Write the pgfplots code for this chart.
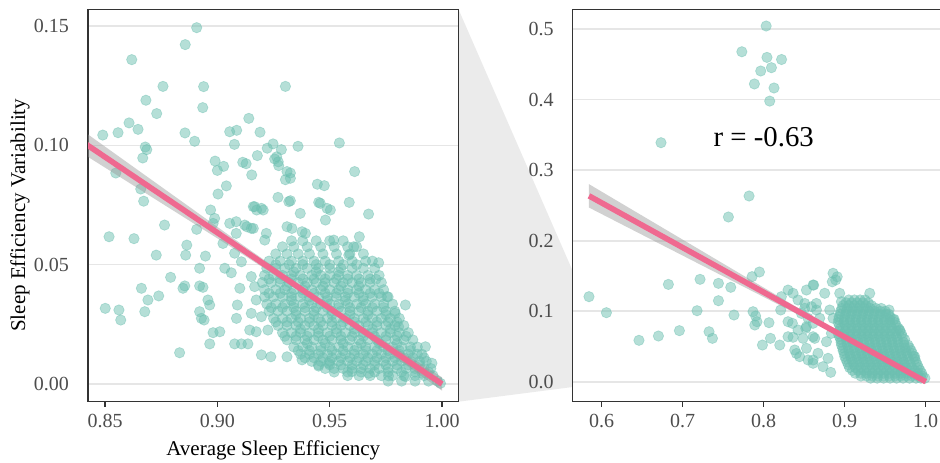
\documentclass[border=0pt]{standalone}
\usepackage{fontspec}
\setmainfont{Liberation Serif}
\usepackage{pgfplots}
\usepackage{pgfplotstable}
\pgfplotsset{compat=1.18}

\definecolor{ptc}{HTML}{6CBFB0}
\definecolor{fitc}{HTML}{EF6990}
\definecolor{grd}{HTML}{E6E6E6}
\definecolor{axc}{HTML}{333333}
\definecolor{tkc}{HTML}{4D4D4D}
\definecolor{zoomgrey}{HTML}{EBEBEB}

% left panel: zoomed view
\pgfplotstableread[row sep=\\]{
x y\\
0.8420 0.0758\\ 0.8418 0.0606\\ 0.8420 0.0444\\ 0.8415 0.0373\\ 0.8424 0.0624\\
0.8908 0.1493\\ 0.8857 0.1422\\ 0.8619 0.1359\\ 0.8758 0.1247\\ 0.8939 0.1246\\ 0.8682 0.1189\\
0.8935 0.1158\\ 0.8730 0.1133\\ 0.9140 0.1113\\ 0.8607 0.1094\\ 0.8647 0.1067\\ 0.8490 0.1043\\
0.8558 0.1053\\ 0.8856 0.1052\\ 0.8899 0.1017\\ 0.9055 0.1057\\ 0.9086 0.1063\\ 0.9190 0.1055\\
0.9076 0.1004\\ 0.8679 0.0993\\ 0.8686 0.0982\\ 0.8668 0.0947\\ 0.8548 0.0884\\ 0.8990 0.0934\\
0.9028 0.0912\\ 0.9000 0.0895\\ 0.9113 0.0929\\ 0.9128 0.0923\\ 0.9178 0.0957\\ 0.9153 0.0876\\
0.9222 0.0988\\ 0.9248 0.1006\\ 0.9255 0.0943\\ 0.9040 0.0830\\ 0.9003 0.0796\\ 0.8659 0.0817\\
0.8672 0.0766\\ 0.9303 0.1247\\ 0.9543 0.1010\\ 0.9359 0.0996\\ 0.9285 0.0982\\ 0.9611 0.0890\\
0.9273 0.0915\\ 0.9310 0.0890\\ 0.9325 0.0884\\ 0.9303 0.0856\\ 0.9325 0.0862\\ 0.9445 0.0837\\
0.9476 0.0831\\ 0.9270 0.0782\\ 0.9325 0.0768\\ 0.9451 0.0761\\ 0.9587 0.0761\\ 0.9264 0.0952\\
0.9271 0.0931\\ 0.8765 0.0666\\ 0.8518 0.0617\\ 0.8629 0.0609\\ 0.8728 0.0540\\ 0.8864 0.0582\\
0.8859 0.0540\\ 0.8947 0.0536\\ 0.8908 0.0648\\ 0.8970 0.0729\\ 0.8988 0.0694\\ 0.8981 0.0673\\
0.9055 0.0673\\ 0.9084 0.0680\\ 0.9122 0.0666\\ 0.9151 0.0652\\ 0.9084 0.0631\\ 0.9025 0.0589\\
0.9077 0.0548\\ 0.9107 0.0512\\ 0.9166 0.0743\\ 0.9196 0.0736\\ 0.9218 0.0631\\ 0.9211 0.0603\\
0.8921 0.0485\\ 0.9033 0.0485\\ 0.9062 0.0466\\ 0.8792 0.0447\\ 0.8662 0.0401\\ 0.8855 0.0411\\
0.8847 0.0401\\ 0.8921 0.0411\\ 0.8936 0.0405\\ 0.8739 0.0369\\ 0.8691 0.0352\\ 0.8677 0.0303\\
0.8501 0.0317\\ 0.8562 0.0310\\ 0.8570 0.0268\\ 0.8958 0.0352\\ 0.8966 0.0331\\ 0.8921 0.0303\\
0.8929 0.0275\\ 0.8941 0.0268\\ 0.8981 0.0215\\ 0.9011 0.0219\\ 0.8966 0.0168\\ 0.8832 0.0131\\
0.9077 0.0168\\ 0.9107 0.0168\\ 0.9136 0.0168\\ 0.9196 0.0122\\ 0.9238 0.0114\\ 0.9100 0.0401\\
0.9089 0.0331\\ 0.9085 0.0275\\ 0.9151 0.0450\\ 0.9166 0.0408\\ 0.9173 0.0352\\ 0.9144 0.0226\\
0.9173 0.0219\\ 0.9225 0.0226\\ 0.9151 0.0296\\ 0.9196 0.0282\\ 0.9318 0.0764\\ 0.9458 0.0757\\
0.9488 0.0736\\ 0.9503 0.0729\\ 0.9481 0.0687\\ 0.9673 0.0712\\ 0.9369 0.0715\\ 0.9332 0.0652\\
0.9310 0.0659\\ 0.9392 0.0631\\ 0.9377 0.0638\\ 0.9518 0.0603\\ 0.9632 0.0617\\ 0.9607 0.0575\\
0.9585 0.0540\\ 0.9718 0.0508\\ 0.9706 0.0439\\ 0.9755 0.0366\\ 0.9837 0.0331\\ 0.9792 0.0296\\
0.9807 0.0240\\ 0.9926 0.0156\\ 0.9955 0.0087\\ 0.9993 0.0003\\ 0.9310 0.0114\\ 0.9377 0.0101\\
0.9451 0.0075\\ 0.9496 0.0087\\ 0.9599 0.0052\\ 0.9673 0.0045\\ 0.9762 0.0034\\ 0.9837 0.0031\\
0.9911 0.0045\\ 0.9160 0.0743\\ 0.9175 0.0729\\ 0.9204 0.0729\\ 0.9131 0.0659\\ 0.9160 0.0652\\
0.933 0.0600\\ 0.938 0.0600\\ 0.944 0.0600\\ 0.950 0.0600\\ 0.956 0.0600\\
0.929 0.0575\\ 0.934 0.0575\\ 0.940 0.0575\\ 0.946 0.0575\\ 0.952 0.0575\\ 0.958 0.0575\\ 0.962 0.0575\\
0.926 0.0545\\ 0.931 0.0545\\ 0.936 0.0545\\ 0.941 0.0545\\ 0.947 0.0545\\ 0.953 0.0545\\ 0.959 0.0545\\ 0.965 0.0545\\
0.923 0.0515\\ 0.928 0.0515\\ 0.933 0.0515\\ 0.938 0.0515\\ 0.943 0.0515\\ 0.948 0.0515\\ 0.954 0.0515\\ 0.960 0.0515\\ 0.966 0.0515\\ 0.969 0.0515\\
0.922 0.0485\\ 0.926 0.0485\\ 0.930 0.0485\\ 0.935 0.0485\\ 0.940 0.0485\\ 0.945 0.0485\\ 0.950 0.0485\\ 0.955 0.0485\\ 0.960 0.0485\\ 0.965 0.0485\\ 0.970 0.0485\\
0.921 0.0455\\ 0.925 0.0455\\ 0.929 0.0455\\ 0.933 0.0455\\ 0.937 0.0455\\ 0.942 0.0455\\ 0.946 0.0455\\ 0.950 0.0455\\ 0.954 0.0455\\ 0.958 0.0455\\ 0.962 0.0455\\ 0.967 0.0455\\ 0.972 0.0455\\
0.920 0.0425\\ 0.924 0.0425\\ 0.928 0.0425\\ 0.932 0.0425\\ 0.936 0.0425\\ 0.940 0.0425\\ 0.944 0.0425\\ 0.948 0.0425\\ 0.952 0.0425\\ 0.956 0.0425\\ 0.960 0.0425\\ 0.964 0.0425\\ 0.968 0.0425\\ 0.973 0.0425\\
0.921 0.0395\\ 0.926 0.0395\\ 0.930 0.0395\\ 0.934 0.0395\\ 0.938 0.0395\\ 0.942 0.0395\\ 0.946 0.0395\\ 0.950 0.0395\\ 0.954 0.0395\\ 0.958 0.0395\\ 0.962 0.0395\\ 0.966 0.0395\\ 0.970 0.0395\\ 0.974 0.0395\\
0.921 0.0365\\ 0.925 0.0365\\ 0.929 0.0365\\ 0.933 0.0365\\ 0.937 0.0365\\ 0.941 0.0365\\ 0.945 0.0365\\ 0.949 0.0365\\ 0.953 0.0365\\ 0.957 0.0365\\ 0.961 0.0365\\ 0.965 0.0365\\ 0.969 0.0365\\ 0.973 0.0365\\ 0.976 0.0365\\
0.922 0.0335\\ 0.926 0.0335\\ 0.930 0.0335\\ 0.934 0.0335\\ 0.938 0.0335\\ 0.942 0.0335\\ 0.946 0.0335\\ 0.950 0.0335\\ 0.954 0.0335\\ 0.958 0.0335\\ 0.962 0.0335\\ 0.966 0.0335\\ 0.970 0.0335\\ 0.974 0.0335\\ 0.978 0.0335\\
0.923 0.0305\\ 0.927 0.0305\\ 0.931 0.0305\\ 0.935 0.0305\\ 0.939 0.0305\\ 0.943 0.0305\\ 0.947 0.0305\\ 0.951 0.0305\\ 0.955 0.0305\\ 0.959 0.0305\\ 0.963 0.0305\\ 0.967 0.0305\\ 0.971 0.0305\\ 0.975 0.0305\\ 0.979 0.0305\\
0.925 0.0275\\ 0.929 0.0275\\ 0.933 0.0275\\ 0.937 0.0275\\ 0.941 0.0275\\ 0.945 0.0275\\ 0.949 0.0275\\ 0.953 0.0275\\ 0.957 0.0275\\ 0.961 0.0275\\ 0.965 0.0275\\ 0.969 0.0275\\ 0.973 0.0275\\ 0.977 0.0275\\ 0.981 0.0275\\
0.927 0.0245\\ 0.931 0.0245\\ 0.935 0.0245\\ 0.939 0.0245\\ 0.943 0.0245\\ 0.947 0.0245\\ 0.951 0.0245\\ 0.955 0.0245\\ 0.959 0.0245\\ 0.963 0.0245\\ 0.967 0.0245\\ 0.971 0.0245\\ 0.975 0.0245\\ 0.979 0.0245\\ 0.983 0.0245\\
0.929 0.0215\\ 0.933 0.0215\\ 0.937 0.0215\\ 0.941 0.0215\\ 0.945 0.0215\\ 0.949 0.0215\\ 0.953 0.0215\\ 0.957 0.0215\\ 0.961 0.0215\\ 0.965 0.0215\\ 0.969 0.0215\\ 0.973 0.0215\\ 0.977 0.0215\\ 0.981 0.0215\\ 0.985 0.0215\\
0.931 0.0185\\ 0.935 0.0185\\ 0.939 0.0185\\ 0.943 0.0185\\ 0.947 0.0185\\ 0.951 0.0185\\ 0.955 0.0185\\ 0.959 0.0185\\ 0.963 0.0185\\ 0.967 0.0185\\ 0.971 0.0185\\ 0.975 0.0185\\ 0.979 0.0185\\ 0.983 0.0185\\ 0.987 0.0185\\
0.934 0.0155\\ 0.938 0.0155\\ 0.942 0.0155\\ 0.946 0.0155\\ 0.950 0.0155\\ 0.954 0.0155\\ 0.958 0.0155\\ 0.962 0.0155\\ 0.966 0.0155\\ 0.970 0.0155\\ 0.974 0.0155\\ 0.978 0.0155\\ 0.982 0.0155\\ 0.986 0.0155\\ 0.989 0.0155\\
0.937 0.0125\\ 0.941 0.0125\\ 0.945 0.0125\\ 0.949 0.0125\\ 0.953 0.0125\\ 0.957 0.0125\\ 0.961 0.0125\\ 0.965 0.0125\\ 0.969 0.0125\\ 0.973 0.0125\\ 0.977 0.0125\\ 0.981 0.0125\\ 0.985 0.0125\\ 0.989 0.0125\\ 0.991 0.0125\\
0.942 0.0095\\ 0.946 0.0095\\ 0.950 0.0095\\ 0.954 0.0095\\ 0.958 0.0095\\ 0.962 0.0095\\ 0.966 0.0095\\ 0.970 0.0095\\ 0.974 0.0095\\ 0.978 0.0095\\ 0.982 0.0095\\ 0.986 0.0095\\ 0.990 0.0095\\ 0.993 0.0095\\
0.948 0.0065\\ 0.952 0.0065\\ 0.956 0.0065\\ 0.960 0.0065\\ 0.964 0.0065\\ 0.968 0.0065\\ 0.972 0.0065\\ 0.976 0.0065\\ 0.980 0.0065\\ 0.984 0.0065\\ 0.988 0.0065\\ 0.992 0.0065\\ 0.995 0.0065\\
0.958 0.0035\\ 0.963 0.0035\\ 0.968 0.0035\\ 0.973 0.0035\\ 0.978 0.0035\\ 0.983 0.0035\\ 0.988 0.0035\\ 0.992 0.0035\\ 0.996 0.0035\\
0.976 0.0012\\ 0.982 0.0012\\ 0.988 0.0012\\ 0.994 0.0012\\ 0.998 0.0012\\
0.943 0.0110\\ 0.951 0.0110\\ 0.959 0.0110\\ 0.967 0.0110\\ 0.975 0.0110\\ 0.983 0.0110\\
0.940 0.0170\\ 0.948 0.0170\\ 0.956 0.0170\\ 0.964 0.0170\\ 0.972 0.0170\\ 0.980 0.0170\\
0.937 0.0230\\ 0.945 0.0230\\ 0.953 0.0230\\ 0.961 0.0230\\ 0.969 0.0230\\ 0.977 0.0230\\
0.935 0.0290\\ 0.943 0.0290\\ 0.951 0.0290\\ 0.959 0.0290\\ 0.967 0.0290\\ 0.975 0.0290\\
0.933 0.0350\\ 0.941 0.0350\\ 0.949 0.0350\\ 0.957 0.0350\\ 0.965 0.0350\\
0.931 0.0410\\ 0.939 0.0410\\ 0.947 0.0410\\ 0.955 0.0410\\ 0.963 0.0410\\
0.934 0.0470\\ 0.944 0.0470\\ 0.954 0.0470\\
0.952 0.0050\\ 0.958 0.0050\\ 0.964 0.0050\\ 0.970 0.0050\\ 0.976 0.0050\\ 0.982 0.0050\\ 0.988 0.0050\\ 0.994 0.0050\\
0.945 0.0080\\ 0.950 0.0080\\ 0.955 0.0080\\ 0.960 0.0080\\ 0.965 0.0080\\ 0.970 0.0080\\ 0.975 0.0080\\ 0.980 0.0080\\ 0.985 0.0080\\ 0.990 0.0080\\
0.939 0.0110\\ 0.947 0.0110\\ 0.955 0.0110\\ 0.963 0.0110\\ 0.971 0.0110\\ 0.979 0.0110\\ 0.987 0.0110\\ 0.992 0.0110\\
0.936 0.0140\\ 0.941 0.0140\\ 0.946 0.0140\\ 0.951 0.0140\\ 0.956 0.0140\\ 0.961 0.0140\\ 0.966 0.0140\\ 0.971 0.0140\\ 0.976 0.0140\\ 0.981 0.0140\\ 0.986 0.0140\\
0.930 0.0200\\ 0.935 0.0200\\ 0.940 0.0200\\ 0.945 0.0200\\ 0.950 0.0200\\ 0.955 0.0200\\ 0.960 0.0200\\ 0.965 0.0200\\ 0.970 0.0200\\ 0.975 0.0200\\ 0.980 0.0200\\ 0.984 0.0200\\
0.926 0.0260\\ 0.931 0.0260\\ 0.936 0.0260\\ 0.941 0.0260\\ 0.946 0.0260\\ 0.951 0.0260\\ 0.956 0.0260\\ 0.961 0.0260\\ 0.966 0.0260\\ 0.971 0.0260\\ 0.976 0.0260\\ 0.980 0.0260\\
0.924 0.0320\\ 0.929 0.0320\\ 0.934 0.0320\\ 0.939 0.0320\\ 0.944 0.0320\\ 0.949 0.0320\\ 0.954 0.0320\\ 0.959 0.0320\\ 0.964 0.0320\\ 0.969 0.0320\\ 0.974 0.0320\\
0.923 0.0380\\ 0.928 0.0380\\ 0.933 0.0380\\ 0.938 0.0380\\ 0.943 0.0380\\ 0.948 0.0380\\ 0.953 0.0380\\ 0.958 0.0380\\ 0.963 0.0380\\ 0.968 0.0380\\ 0.972 0.0380\\
0.923 0.0440\\ 0.928 0.0440\\ 0.933 0.0440\\ 0.938 0.0440\\ 0.943 0.0440\\ 0.948 0.0440\\ 0.953 0.0440\\ 0.958 0.0440\\ 0.963 0.0440\\ 0.968 0.0440\\
0.926 0.0500\\ 0.932 0.0500\\ 0.938 0.0500\\ 0.944 0.0500\\ 0.950 0.0500\\ 0.956 0.0500\\ 0.962 0.0500\\
}\ptsL

% right panel: full range
\pgfplotstableread[row sep=\\]{
x y\\
0.803 0.5045\\ 0.773 0.468\\ 0.804 0.460\\ 0.822 0.457\\ 0.8095 0.4454\\ 0.7963 0.4407\\
0.7885 0.4223\\ 0.8127 0.4166\\ 0.8074 0.398\\ 0.6732 0.339\\ 0.7819 0.2634\\ 0.7564 0.2336\\
0.5843 0.1206\\ 0.6058 0.0979\\ 0.646 0.0587\\ 0.670 0.0648\\ 0.6823 0.138\\ 0.6959 0.0724\\
0.7177 0.1007\\ 0.7214 0.1452\\ 0.7325 0.0709\\ 0.7367 0.0615\\ 0.7441 0.1395\\ 0.7441 0.1149\\
0.7593 0.1339\\ 0.7633 0.0946\\ 0.7856 0.149\\ 0.7947 0.1556\\ 0.7868 0.0993\\ 0.790 0.0932\\
0.7917 0.0851\\ 0.789 0.0804\\ 0.8065 0.0837\\ 0.7984 0.052\\ 0.8083 0.0615\\ 0.8198 0.052\\
0.821 0.1017\\ 0.8218 0.1206\\ 0.830 0.130\\ 0.8362 0.1254\\ 0.830 0.0851\\ 0.8354 0.0828\\
0.8424 0.0733\\ 0.830 0.0638\\ 0.8362 0.063\\ 0.8485 0.0615\\ 0.8609 0.0638\\ 0.8383 0.045\\
0.8444 0.0355\\ 0.8547 0.0308\\ 0.8609 0.0308\\ 0.8424 0.1159\\ 0.8506 0.1041\\ 0.8589 0.1064\\
0.8651 0.1017\\ 0.8609 0.1372\\ 0.8527 0.130\\ 0.8547 0.090\\ 0.8609 0.0828\\ 0.8519 0.0757\\
0.8506 0.111\\ 0.865 0.111\\ 0.8753 0.1254\\ 0.8938 0.1254\\ 0.8959 0.1135\\ 0.8815 0.1017\\
0.8856 0.090\\ 0.8691 0.090\\ 0.8527 0.078\\ 0.863 0.0615\\ 0.8774 0.0567\\ 0.8836 0.0686\\
0.8527 0.0474\\ 0.867 0.0403\\ 0.8794 0.0332\\ 0.8609 0.0261\\ 0.8732 0.0213\\ 0.8827 0.0133\\
0.8465 0.097\\ 0.8889 0.1443\\ 0.8856 0.1538\\ 0.8617 0.137\\ 0.9309 0.1254\\ 0.9547 0.1017\\
0.961 0.0885\\ 0.9679 0.0733\\ 0.9864 0.0355\\ 0.8846 0.1417\\ 0.8907 0.1488\\ 0.8404 0.040\\
0.905 0.116\\ 0.912 0.116\\ 0.919 0.116\\ 0.925 0.116\\
0.898 0.108\\ 0.905 0.108\\ 0.912 0.108\\ 0.919 0.108\\ 0.926 0.108\\ 0.933 0.108\\
0.895 0.100\\ 0.902 0.100\\ 0.909 0.100\\ 0.916 0.100\\ 0.923 0.100\\ 0.930 0.100\\ 0.937 0.100\\ 0.944 0.100\\ 0.950 0.100\\
0.893 0.092\\ 0.900 0.092\\ 0.907 0.092\\ 0.914 0.092\\ 0.921 0.092\\ 0.928 0.092\\ 0.935 0.092\\ 0.942 0.092\\ 0.949 0.092\\ 0.956 0.092\\
0.892 0.084\\ 0.899 0.084\\ 0.906 0.084\\ 0.913 0.084\\ 0.920 0.084\\ 0.927 0.084\\ 0.934 0.084\\ 0.941 0.084\\ 0.948 0.084\\ 0.955 0.084\\ 0.962 0.084\\
0.895 0.076\\ 0.902 0.076\\ 0.909 0.076\\ 0.916 0.076\\ 0.923 0.076\\ 0.930 0.076\\ 0.937 0.076\\ 0.944 0.076\\ 0.951 0.076\\ 0.958 0.076\\ 0.966 0.076\\
0.892 0.068\\ 0.899 0.068\\ 0.906 0.068\\ 0.913 0.068\\ 0.920 0.068\\ 0.927 0.068\\ 0.934 0.068\\ 0.941 0.068\\ 0.948 0.068\\ 0.955 0.068\\ 0.962 0.068\\ 0.970 0.068\\
0.895 0.060\\ 0.902 0.060\\ 0.909 0.060\\ 0.916 0.060\\ 0.923 0.060\\ 0.930 0.060\\ 0.937 0.060\\ 0.944 0.060\\ 0.951 0.060\\ 0.958 0.060\\ 0.965 0.060\\ 0.974 0.060\\
0.896 0.052\\ 0.903 0.052\\ 0.910 0.052\\ 0.917 0.052\\ 0.924 0.052\\ 0.931 0.052\\ 0.938 0.052\\ 0.945 0.052\\ 0.952 0.052\\ 0.959 0.052\\ 0.966 0.052\\ 0.973 0.052\\ 0.978 0.052\\
0.898 0.044\\ 0.905 0.044\\ 0.912 0.044\\ 0.919 0.044\\ 0.926 0.044\\ 0.933 0.044\\ 0.940 0.044\\ 0.947 0.044\\ 0.954 0.044\\ 0.961 0.044\\ 0.968 0.044\\ 0.975 0.044\\ 0.982 0.044\\
0.900 0.036\\ 0.907 0.036\\ 0.914 0.036\\ 0.921 0.036\\ 0.928 0.036\\ 0.935 0.036\\ 0.942 0.036\\ 0.949 0.036\\ 0.956 0.036\\ 0.963 0.036\\ 0.970 0.036\\ 0.977 0.036\\ 0.985 0.036\\
0.903 0.028\\ 0.910 0.028\\ 0.917 0.028\\ 0.924 0.028\\ 0.931 0.028\\ 0.938 0.028\\ 0.945 0.028\\ 0.952 0.028\\ 0.959 0.028\\ 0.966 0.028\\ 0.973 0.028\\ 0.980 0.028\\ 0.988 0.028\\
0.906 0.020\\ 0.913 0.020\\ 0.920 0.020\\ 0.927 0.020\\ 0.934 0.020\\ 0.941 0.020\\ 0.948 0.020\\ 0.955 0.020\\ 0.962 0.020\\ 0.969 0.020\\ 0.976 0.020\\ 0.983 0.020\\ 0.991 0.020\\
0.913 0.012\\ 0.920 0.012\\ 0.927 0.012\\ 0.934 0.012\\ 0.941 0.012\\ 0.948 0.012\\ 0.955 0.012\\ 0.962 0.012\\ 0.969 0.012\\ 0.976 0.012\\ 0.983 0.012\\ 0.990 0.012\\ 0.995 0.012\\
0.932 0.005\\ 0.940 0.005\\ 0.948 0.005\\ 0.956 0.005\\ 0.964 0.005\\ 0.972 0.005\\ 0.980 0.005\\ 0.988 0.005\\ 0.994 0.005\\ 0.999 0.005\\
0.9015 0.112\\ 0.9085 0.112\\ 0.9155 0.112\\ 0.9225 0.112\\ 0.929 0.112\\
0.8965 0.104\\ 0.9035 0.104\\ 0.9105 0.104\\ 0.9175 0.104\\ 0.9245 0.104\\ 0.9315 0.104\\ 0.9385 0.104\\ 0.945 0.104\\
0.8945 0.096\\ 0.9015 0.096\\ 0.9085 0.096\\ 0.9155 0.096\\ 0.9225 0.096\\ 0.9295 0.096\\ 0.9365 0.096\\ 0.9435 0.096\\ 0.9505 0.096\\ 0.954 0.096\\
0.8925 0.088\\ 0.8995 0.088\\ 0.9065 0.088\\ 0.9135 0.088\\ 0.9205 0.088\\ 0.9275 0.088\\ 0.9345 0.088\\ 0.9415 0.088\\ 0.9485 0.088\\ 0.9555 0.088\\ 0.960 0.088\\
0.8935 0.080\\ 0.9005 0.080\\ 0.9075 0.080\\ 0.9145 0.080\\ 0.9215 0.080\\ 0.9285 0.080\\ 0.9355 0.080\\ 0.9425 0.080\\ 0.9495 0.080\\ 0.9565 0.080\\ 0.9635 0.080\\
0.8935 0.072\\ 0.9005 0.072\\ 0.9075 0.072\\ 0.9145 0.072\\ 0.9215 0.072\\ 0.9285 0.072\\ 0.9355 0.072\\ 0.9425 0.072\\ 0.9495 0.072\\ 0.9565 0.072\\ 0.9635 0.072\\ 0.968 0.072\\
0.8935 0.064\\ 0.9005 0.064\\ 0.9075 0.064\\ 0.9145 0.064\\ 0.9215 0.064\\ 0.9285 0.064\\ 0.9355 0.064\\ 0.9425 0.064\\ 0.9495 0.064\\ 0.9565 0.064\\ 0.9635 0.064\\ 0.971 0.064\\
0.8955 0.056\\ 0.9025 0.056\\ 0.9095 0.056\\ 0.9165 0.056\\ 0.9235 0.056\\ 0.9305 0.056\\ 0.9375 0.056\\ 0.9445 0.056\\ 0.9515 0.056\\ 0.9585 0.056\\ 0.9655 0.056\\ 0.9725 0.056\\
0.8975 0.048\\ 0.9045 0.048\\ 0.9115 0.048\\ 0.9185 0.048\\ 0.9255 0.048\\ 0.9325 0.048\\ 0.9395 0.048\\ 0.9465 0.048\\ 0.9535 0.048\\ 0.9605 0.048\\ 0.9675 0.048\\ 0.9745 0.048\\ 0.980 0.048\\
0.8995 0.040\\ 0.9065 0.040\\ 0.9135 0.040\\ 0.9205 0.040\\ 0.9275 0.040\\ 0.9345 0.040\\ 0.9415 0.040\\ 0.9485 0.040\\ 0.9555 0.040\\ 0.9625 0.040\\ 0.9695 0.040\\ 0.9765 0.040\\ 0.9835 0.040\\
0.9015 0.032\\ 0.9085 0.032\\ 0.9155 0.032\\ 0.9225 0.032\\ 0.9295 0.032\\ 0.9365 0.032\\ 0.9435 0.032\\ 0.9505 0.032\\ 0.9575 0.032\\ 0.9645 0.032\\ 0.9715 0.032\\ 0.9785 0.032\\ 0.9865 0.032\\
0.9045 0.024\\ 0.9115 0.024\\ 0.9185 0.024\\ 0.9255 0.024\\ 0.9325 0.024\\ 0.9395 0.024\\ 0.9465 0.024\\ 0.9535 0.024\\ 0.9605 0.024\\ 0.9675 0.024\\ 0.9745 0.024\\ 0.9815 0.024\\ 0.9895 0.024\\
0.9095 0.016\\ 0.9165 0.016\\ 0.9235 0.016\\ 0.9305 0.016\\ 0.9375 0.016\\ 0.9445 0.016\\ 0.9515 0.016\\ 0.9585 0.016\\ 0.9655 0.016\\ 0.9725 0.016\\ 0.9795 0.016\\ 0.9865 0.016\\ 0.993 0.016\\
0.920 0.008\\ 0.927 0.008\\ 0.934 0.008\\ 0.941 0.008\\ 0.948 0.008\\ 0.955 0.008\\ 0.962 0.008\\ 0.969 0.008\\ 0.976 0.008\\ 0.983 0.008\\ 0.990 0.008\\ 0.996 0.008\\
}\ptsR

% confidence band of the linear fit, as one closed outline:
% upper edge left to right, then lower edge right to left
\pgfplotstableread[row sep=\\]{
x y\\
0.5843 0.2802\\ 0.65 0.2355\\ 0.70 0.2015\\ 0.75 0.1675\\ 0.80 0.1335\\ 0.84 0.1062\\
0.88 0.0793\\ 0.91 0.0591\\ 0.945 0.0361\\ 0.97 0.0207\\ 1.00 0.0028\\
1.00 -0.0028\\ 0.97 0.0173\\ 0.945 0.0337\\ 0.91 0.0551\\ 0.88 0.0729\\ 0.84 0.0966\\
0.80 0.1201\\ 0.75 0.1495\\ 0.70 0.1789\\ 0.65 0.2083\\ 0.5843 0.2470\\
}\band

\pgfplotsset{
  panel/.style={
    scale only axis, height=196.2pt,
    axis line style={axc, line width=0.65pt},
    xtick style={axc, line width=0.65pt},
    ytick style={draw=none},
    xtick pos=lower, ytick pos=left,
    tick align=outside, major tick length=2.5pt,
    ymajorgrids, grid style={grd, line width=0.8pt},
    tick label style={font=\fontsize{10}{12}\selectfont, text=tkc},
    yticklabel style={xshift=-3.5pt},
    scaled ticks=false,
    clip marker paths=true,
    /pgf/number format/assume math mode=true,
  },
  pts/.style={only marks, mark=*, mark size=2.6pt,
    mark options={draw=ptc, fill=ptc, draw opacity=0.45, fill opacity=0.5, line width=0.35pt}},
}

\begin{document}
\begin{tikzpicture}
\clip (0,0) rectangle (470pt,231pt);

% zoom connector
\fill[zoomgrey] (229.25pt,226.35pt) -- (286.35pt,95.5pt) -- (286.35pt,37.5pt) -- (229.25pt,30.15pt) -- cycle;

\begin{axis}[panel,
  at={(44pt,30.15pt)}, anchor=south west, width=185.25pt,
  xmin=0.84243, xmax=1.00734, ymin=-0.00742, ymax=0.157,
  xtick={0.85,0.90,0.95,1.00}, ytick={0,0.05,0.10,0.15},
  xticklabel style={/pgf/number format/.cd, fixed, fixed zerofill, precision=2},
  yticklabel style={/pgf/number format/.cd, fixed, fixed zerofill, precision=2},
  xlabel={Average Sleep Efficiency},
  ylabel={Sleep Efficiency Variability},
  xlabel style={at={(axis description cs:0.5,-0.123)}, anchor=center, font=\fontsize{10.5}{12}\selectfont},
  ylabel style={at={(axis description cs:-0.1835,0.475)}, anchor=center, font=\fontsize{10.5}{12}\selectfont},
]
\addplot[pts] table {\ptsL};
\addplot[draw=none, fill=black!40, fill opacity=0.45] table {\band} -- cycle;
\addplot[fitc, line width=2.8pt] coordinates {(0.5843,0.2636) (1.0,0)};
\end{axis}

\begin{axis}[panel,
  at={(286.35pt,30.15pt)}, anchor=south west, width=186.15pt,
  xmin=0.5642, xmax=1.0238, ymin=-0.02837, ymax=0.5282,
  xtick={0.6,0.7,0.8,0.9,1.0}, ytick={0,0.1,0.2,0.3,0.4,0.5},
  xticklabel style={/pgf/number format/.cd, fixed, fixed zerofill, precision=1},
  yticklabel style={/pgf/number format/.cd, fixed, fixed zerofill, precision=1},
]
\addplot[pts] table {\ptsR};
\addplot[draw=none, fill=black!40, fill opacity=0.45] table {\band} -- cycle;
\addplot[fitc, line width=2.8pt] coordinates {(0.5843,0.2636) (1.0,0)};
\node[font=\fontsize{14.4}{16}\selectfont] at (axis cs:0.80,0.347) {r = -0.63};
\end{axis}
\end{tikzpicture}
\end{document}
